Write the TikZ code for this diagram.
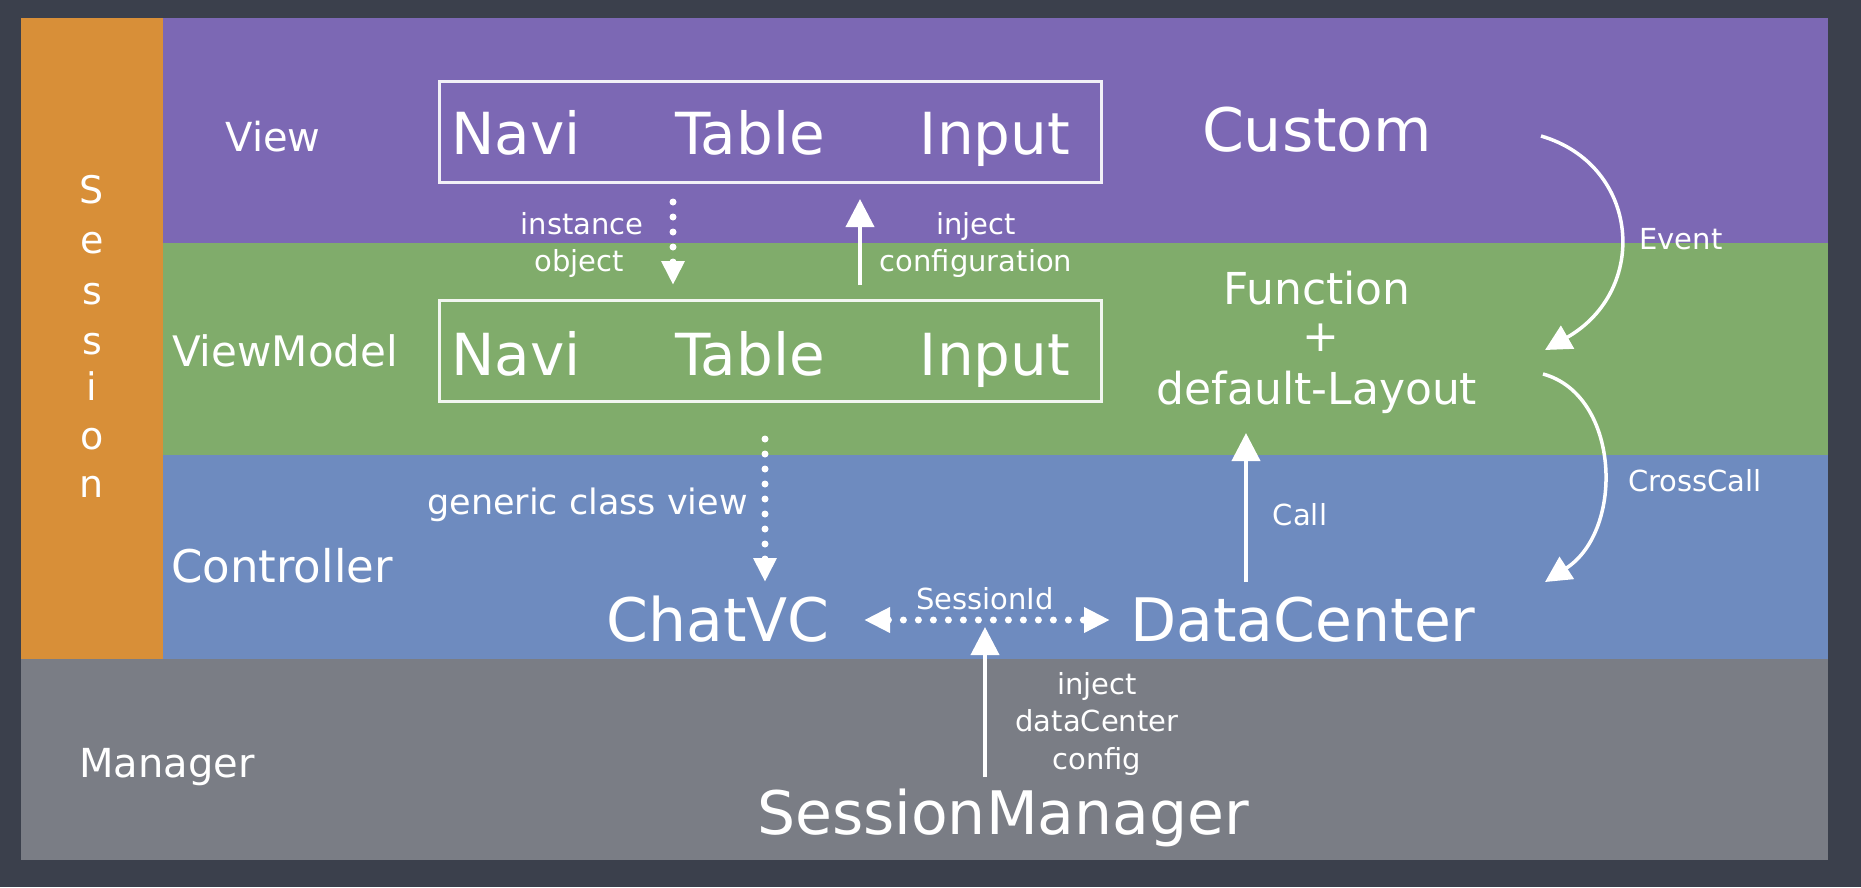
\documentclass[tikz,border=0pt]{standalone}
\usepackage{fontspec}
\setmainfont{DejaVu Sans}
\usetikzlibrary{arrows.meta}
\definecolor{bgdark}{HTML}{3B404C}
\definecolor{sorange}{HTML}{D88F38}
\definecolor{vpurple}{HTML}{7C68B4}
\definecolor{vmgreen}{HTML}{80AC6B}
\definecolor{cblue}{HTML}{6E8BBF}
\definecolor{mgray}{HTML}{7A7D85}
\begin{document}
\begin{tikzpicture}[x=1pt,y=-1pt,
  big/.style={text=white,font=\fontsize{58}{62}\selectfont,inner sep=0pt,anchor=base},
  huge/.style={text=white,font=\fontsize{60}{66}\selectfont,inner sep=0pt,anchor=base},
  mid/.style={text=white,font=\fontsize{44}{50}\selectfont,inner sep=0pt,anchor=base},
  layer/.style={text=white,font=\fontsize{40}{44}\selectfont,inner sep=0pt,anchor=base},
  small/.style={text=white,font=\fontsize{29}{34}\selectfont,inner sep=0pt,anchor=base},
  letter/.style={text=white,font=\fontsize{38}{40}\selectfont,inner sep=0pt},
  chalkbox/.style={draw=white,draw opacity=0.9,line width=3pt,inner sep=0pt},
  solidarrow/.style={white,line width=4pt,-{Triangle[width=28pt,length=28pt]}},
  curvearrow/.style={white,line width=3.5pt,-{Triangle[width=26pt,length=26pt]}},
  dotarrow/.style={white,line width=7pt,line cap=round,dash pattern=on 0pt off 15pt,
    -{Triangle[width=22pt,length=24pt]}},
  dotdouble/.style={white,line width=7pt,line cap=round,dash pattern=on 0pt off 15pt,
    {Triangle[width=24pt,length=26pt]}-{Triangle[width=24pt,length=26pt]}}
]
\useasboundingbox (0,0) rectangle (1861,887);
% background and bands
\fill[bgdark] (0,0) rectangle (1861,887);
\fill[sorange] (21,18) rectangle (163,659);
\fill[vpurple] (163,18) rectangle (1828,243);
\fill[vmgreen] (163,243) rectangle (1828,455);
\fill[cblue] (163,455) rectangle (1828,659);
\fill[mgray] (21,659) rectangle (1828,860);

% Session vertical letters
\foreach \ch/\yy [count=\k] in {S/190,e/243,s/294,s/344,i/386,o/439,n/487}
  \node[letter] (sess\k) at (92,\yy) {\ch};

% layer labels
\node[layer] (lview) at (273,151) {View};
\node[layer,font=\fontsize{42}{46}\selectfont] (lvm) at (285,366) {ViewModel};
\node[layer,font=\fontsize{45}{48}\selectfont] (lctrl) at (282,582) {Controller};
\node[layer] (lman) at (167,777) {Manager};

% boxes
\node[chalkbox,minimum width=662pt,minimum height=101pt] (vbox) at (770,131.5) {};
\node[chalkbox,minimum width=662pt,minimum height=101pt] (vmbox) at (770,350.5) {};

\node[big] (navi1) at (516,154) {Navi};
\node[big] (table1) at (750,154) {Table};
\node[big] (input1) at (995,154) {Input};
\node[big] (navi2) at (516,375) {Navi};
\node[big] (table2) at (750,375) {Table};
\node[big] (input2) at (995,375) {Input};

\node[huge] (custom) at (1317,151) {Custom};
\node[mid] (func) at (1317,304) {Function};
\node[mid,anchor=center] (plus) at (1321,338) {+};
\node[mid] (deflay) at (1317,404) {default-Layout};

\node[huge] (chat) at (718,641) {ChatVC};
\node[huge] (dc) at (1303,641) {DataCenter};
\node[huge] (sm) at (1003,834) {SessionManager};

% small labels
\node[small] (linst) at (582,234) {instance};
\node[small] (lobj) at (579,271) {object};
\node[small] (linj) at (976,234) {inject};
\node[small] (lconf) at (976,271) {configuration};
\node[small,anchor=base east,font=\fontsize{35}{38}\selectfont] (lgcv) at (748,514) {generic class view};
\node[small] (lcall) at (1300,525) {Call};
\node[small] (levent) at (1681,249) {Event};
\node[small] (lcross) at (1695,491) {CrossCall};
\node[small] (lsid) at (985,609) {SessionId};
\node[small] (linj2) at (1097,694) {inject};
\node[small] (ldc) at (1097,731) {dataCenter};
\node[small] (lcfg) at (1097,769) {config};

% connector end points
\coordinate (instA) at (673,202);
\coordinate (instB) at (673,285);
\coordinate (injA) at (860,285);
\coordinate (injB) at (860,199);
\coordinate (gcvA) at (765,439);
\coordinate (gcvB) at (765,582);
\coordinate (callA) at (1246,582);
\coordinate (callB) at (1246,433);
\coordinate (sidA) at (864,620);
\coordinate (sidB) at (1110,620);
\coordinate (smA) at (985,777);
\coordinate (smB) at (985,627);
\coordinate (evA) at (1541,136);
\coordinate (evB) at (1545,350);
\coordinate (ccA) at (1543,374);
\coordinate (ccB) at (1545,582);

% connectors
\draw[dotarrow] (instA) -- (instB);
\draw[solidarrow] (injA) -- (injB);
\draw[dotarrow] (gcvA) -- (gcvB);
\draw[solidarrow] (callA) -- (callB);
\draw[dotdouble] (sidA) -- (sidB);
\draw[solidarrow] (smA) -- (smB);
\draw[curvearrow] (evA) .. controls (1640,165) and (1650,290) .. (evB);
\draw[curvearrow] (ccA) .. controls (1620,395) and (1625,530) .. (ccB);
\end{tikzpicture}
\end{document}
